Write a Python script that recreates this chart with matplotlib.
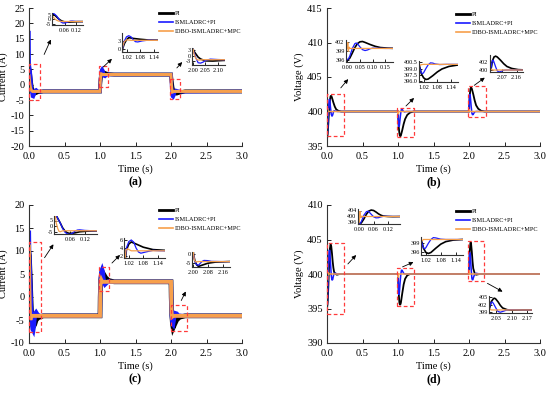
import matplotlib
matplotlib.use("Agg")
import matplotlib.pyplot as plt

plt.rcParams["font.family"] = ["Liberation Serif", "DejaVu Serif"]
plt.rcParams["axes.unicode_minus"] = False

LABELS = ["PI", "ISMLADRC+PI", "IDBO-ISMLADRC+MPC"]
COLORS = ["#000000", "#1a1aff", "#f7a04c"]

# (time s, value) samples
A_PI = [(0.0, 5.5), (0.01, 4.5), (0.02, 2.5), (0.03, 0.5), (0.04, -1.0), (0.05, -2.0), (0.06, -2.6),
        (0.08, -2.9), (0.10, -2.7), (0.13, -2.4), (0.2, -2.2), (1.0, -2.2), (1.002, 0.0), (1.01, 2.0),
        (1.02, 3.5), (1.03, 4.3), (1.05, 4.0), (1.08, 3.7), (1.12, 3.4), (1.2, 3.3), (2.0, 3.3),
        (2.002, 2.5), (2.01, 1.0), (2.02, -0.8), (2.03, -1.8), (2.05, -2.8), (2.08, -2.9), (2.12, -2.6),
        (2.2, -2.2), (3.0, -2.2)]
A_ISM = [(0.0, 17.0), (0.003, 6.5), (0.01, 5.5), (0.02, 3.5), (0.03, 0.5), (0.04, -2.5), (0.05, -3.8),
         (0.06, -3.9), (0.07, -3.3), (0.08, -2.5), (0.09, -1.8), (0.10, -1.7), (0.12, -2.1), (0.15, -2.3),
         (0.2, -2.2), (1.0, -2.2), (1.002, 0.0), (1.01, 3.0), (1.02, 4.6), (1.03, 5.0), (1.04, 4.6),
         (1.05, 3.5), (1.06, 2.8), (1.07, 2.7), (1.09, 3.1), (1.12, 3.4), (1.15, 3.3), (2.0, 3.3),
         (2.002, 2.0), (2.01, -1.0), (2.02, -3.8), (2.03, -4.0), (2.04, -3.5), (2.05, -2.6), (2.07, -1.9),
         (2.10, -2.1), (2.15, -2.3), (3.0, -2.2)]
A_IDBO = [(0.0, 3.0), (0.01, 0.5), (0.02, -1.0), (0.03, -1.8), (0.05, -2.2), (1.0, -2.2), (1.003, 1.0),
          (1.01, 2.8), (1.02, 3.5), (1.04, 3.3), (2.0, 3.3), (2.003, 1.0), (2.01, -1.5), (2.02, -2.4),
          (2.04, -2.2), (3.0, -2.2)]

B_PI = [(0.0, 396.0), (0.01, 396.8), (0.02, 398.5), (0.03, 400.3), (0.04, 401.6), (0.05, 402.2),
        (0.06, 402.3), (0.07, 402.0), (0.09, 401.3), (0.11, 400.7), (0.13, 400.3), (0.16, 400.1),
        (0.2, 400.0), (1.0, 400.0), (1.005, 399.0), (1.01, 397.8), (1.02, 396.8), (1.03, 396.4),
        (1.04, 396.5), (1.06, 397.3), (1.08, 398.2), (1.10, 398.9), (1.13, 399.5), (1.17, 399.85),
        (1.22, 400.0), (2.0, 400.0), (2.005, 401.0), (2.01, 402.3), (2.02, 403.3), (2.03, 403.5),
        (2.04, 403.3), (2.06, 402.5), (2.08, 401.6), (2.10, 400.9), (2.13, 400.4), (2.17, 400.1),
        (2.22, 400.0), (3.0, 400.0)]
B_ISM = [(0.0, 396.3), (0.005, 396.6), (0.01, 397.5), (0.02, 400.0), (0.03, 401.6), (0.035, 401.8),
         (0.04, 401.6), (0.05, 400.5), (0.06, 399.6), (0.07, 399.3), (0.08, 399.5), (0.09, 399.9),
         (0.10, 400.1), (0.12, 400.05), (0.15, 400.0), (1.0, 400.0), (1.005, 398.8), (1.01, 398.0),
         (1.015, 397.8), (1.02, 398.0), (1.03, 399.0), (1.04, 399.9), (1.05, 400.35), (1.06, 400.3),
         (1.07, 400.1), (1.09, 399.95), (1.12, 400.0), (2.0, 400.0), (2.005, 401.5), (2.01, 402.4),
         (2.015, 402.5), (2.02, 402.0), (2.03, 400.8), (2.04, 399.8), (2.05, 399.5), (2.06, 399.6),
         (2.08, 399.95), (2.10, 400.0), (3.0, 400.0)]
B_IDBO = [(0.0, 400.0), (0.002, 402.0), (0.004, 399.0), (0.007, 400.5), (0.01, 400.0), (1.0, 400.0),
          (1.003, 399.6), (1.008, 399.9), (1.02, 400.0), (2.0, 400.0), (2.003, 400.3), (2.01, 400.0),
          (3.0, 400.0)]

C_PI = [(0.0, 9.5), (0.005, 9.0), (0.01, 7.0), (0.02, 3.0), (0.03, -1.5), (0.04, -4.5), (0.05, -6.0),
        (0.06, -6.5), (0.08, -6.0), (0.10, -5.0), (0.13, -4.5), (0.2, -4.1), (1.0, -4.1), (1.003, 0.0),
        (1.01, 3.5), (1.02, 5.0), (1.03, 5.5), (1.05, 5.0), (1.08, 4.2), (1.12, 3.6), (1.2, 3.3),
        (2.0, 3.3), (2.003, 0.0), (2.01, -3.5), (2.02, -5.8), (2.03, -6.7), (2.05, -6.0), (2.08, -5.0),
        (2.12, -4.4), (2.2, -4.1), (3.0, -4.1)]
C_ISM = [(0.0, 14.0), (0.003, 10.0), (0.01, 7.0), (0.02, 3.0), (0.03, -2.0), (0.04, -5.5), (0.05, -7.0),
         (0.06, -7.3), (0.07, -6.3), (0.08, -4.5), (0.09, -3.5), (0.10, -3.3), (0.12, -3.8), (0.15, -4.1),
         (1.0, -4.1), (1.003, 0.0), (1.01, 4.0), (1.02, 5.6), (1.03, 6.0), (1.04, 5.5), (1.05, 4.0),
         (1.06, 3.0), (1.07, 2.7), (1.09, 3.0), (1.12, 3.4), (1.15, 3.3), (2.0, 3.3), (2.003, 0.0),
         (2.01, -4.0), (2.02, -5.8), (2.03, -6.0), (2.04, -5.0), (2.05, -4.0), (2.06, -3.5), (2.08, -3.6),
         (2.10, -4.0), (2.15, -4.1), (3.0, -4.1)]
C_IDBO = [(0.0, 11.0), (0.004, 3.0), (0.01, -2.0), (0.015, -4.5), (0.02, -5.0), (0.03, -4.2), (0.05, -4.1),
          (1.0, -4.1), (1.003, 0.0), (1.008, 3.5), (1.015, 3.8), (1.03, 3.3), (2.0, 3.3), (2.003, 0.0),
          (2.008, -3.5), (2.015, -4.3), (2.03, -4.1), (3.0, -4.1)]

D_PI = [(0.0, 395.0), (0.01, 396.0), (0.02, 398.5), (0.03, 401.5), (0.04, 403.6), (0.05, 404.3),
        (0.06, 404.0), (0.07, 403.0), (0.08, 401.8), (0.09, 400.9), (0.10, 400.3), (0.12, 400.0),
        (0.14, 399.9), (0.18, 400.0), (1.0, 400.0), (1.005, 398.8), (1.01, 397.2), (1.02, 395.8),
        (1.03, 395.5), (1.04, 395.8), (1.06, 397.2), (1.08, 398.5), (1.10, 399.3), (1.13, 399.8),
        (1.17, 400.0), (2.0, 400.0), (2.005, 401.5), (2.01, 403.3), (2.02, 404.5), (2.025, 404.6),
        (2.03, 404.3), (2.04, 403.2), (2.05, 401.8), (2.06, 400.8), (2.08, 400.1), (2.10, 399.9),
        (2.15, 400.0), (3.0, 400.0)]
D_ISM = [(0.0, 395.0), (0.005, 395.5), (0.01, 397.0), (0.02, 401.0), (0.03, 403.2), (0.035, 403.5),
         (0.04, 403.2), (0.05, 401.5), (0.06, 399.8), (0.07, 399.1), (0.08, 399.2), (0.09, 399.7),
         (0.10, 400.1), (0.12, 400.1), (0.15, 400.0), (1.0, 400.0), (1.005, 398.5), (1.01, 397.3),
         (1.015, 397.0), (1.02, 397.4), (1.03, 398.8), (1.04, 400.0), (1.05, 400.6), (1.06, 400.5),
         (1.08, 400.1), (1.10, 400.0), (2.0, 400.0), (2.005, 402.0), (2.01, 403.0), (2.015, 403.1),
         (2.02, 402.5), (2.03, 400.8), (2.04, 399.4), (2.05, 399.1), (2.06, 399.4), (2.08, 400.0),
         (2.10, 400.1), (2.15, 400.0), (3.0, 400.0)]
D_IDBO = [(0.0, 396.0), (0.003, 403.5), (0.006, 399.0), (0.01, 400.3), (0.015, 400.0), (1.0, 400.0),
          (1.003, 399.5), (1.01, 400.0), (2.0, 400.0), (2.003, 400.5), (2.01, 400.0), (3.0, 400.0)]

W, H = 550, 394


def px_rect(x0, y0, x1, y1):
    return [x0 / W, 1 - y1 / H, (x1 - x0) / W, (y1 - y0) / H]


def px(x, y):
    return (x / W, 1 - y / H)


def style_axes(ax, size, length, xpad, ypad):
    for s in ("top", "right"):
        ax.spines[s].set_visible(False)
    for s in ("left", "bottom"):
        ax.spines[s].set_color("#333333")
        ax.spines[s].set_linewidth(0.8)
    ax.tick_params(direction="in", labelsize=size, length=length, width=0.6)
    ax.tick_params(axis="x", pad=xpad)
    ax.tick_params(axis="y", pad=ypad)


def plot_series(ax, series, widths):
    for data, c, w, lab in zip(series, COLORS, widths, LABELS):
        t, y = zip(*data)
        ax.plot(t, y, color=c, lw=w, label=lab, solid_joinstyle="miter")


def main_panel(fig, rect, series, ylim, yticks, ylabel, letter, widths, legend_xy):
    ax = fig.add_axes(px_rect(*rect))
    plot_series(ax, series, widths)
    ax.set_xlim(0, 3)
    ax.set_ylim(*ylim)
    ax.set_yticks(yticks)
    ax.set_xticks([0, 0.5, 1.0, 1.5, 2.0, 2.5, 3.0])
    ax.set_xticklabels(["%.1f" % v for v in ax.get_xticks()])
    style_axes(ax, 7.5, 3, 4, 3)
    ax.set_xlabel("Time (s)", fontsize=7.5, labelpad=3)
    ax.set_ylabel(ylabel, fontsize=7.5, labelpad=2)
    fig.text((rect[0] + rect[2]) / 2 / W, 1 - (rect[3] + 36) / H, letter,
             ha="center", va="center", fontsize=8.5, fontweight="bold")
    handles = [plt.Line2D([], [], color=c, lw=w) for c, w in zip(COLORS, [2.0, 1.2, 1.2])]
    fig.legend(handles, LABELS, loc="upper left", bbox_to_anchor=px(*legend_xy),
               frameon=False, fontsize=4.5, handlelength=2.3, handletextpad=0.15,
               labelspacing=0.55, borderpad=0, borderaxespad=0)
    return ax


def inset(fig, rect, series, xlim, ylim, xticks, yticks, xfmt="%.2f", yfmt="%g"):
    ax = fig.add_axes(px_rect(*rect))
    plot_series(ax, series, [1.2, 0.9, 0.9])
    ax.set_xlim(*xlim)
    ax.set_ylim(*ylim)
    ax.set_xticks(xticks)
    ax.set_xticklabels([xfmt % v for v in xticks])
    ax.set_yticks(yticks)
    ax.set_yticklabels([yfmt % v for v in yticks])
    style_axes(ax, 4.4, 2, 2, 1)
    ax.patch.set_alpha(0)
    return ax


def box(ax, x0, x1, y0, y1):
    ax.plot([x0, x1, x1, x0, x0], [y0, y0, y1, y1, y0], color="#ff3b3b", lw=0.9,
            dashes=(3, 2), clip_on=False, zorder=5)


def arrow(fig, p0, p1):
    fig.patches.append(matplotlib.patches.FancyArrowPatch(
        px(*p0), px(*p1), transform=fig.transFigure, arrowstyle="-|>",
        mutation_scale=6, lw=0.6, color="black"))


fig = plt.figure(figsize=(W / 100, H / 100), dpi=100)

# (a)
ax = main_panel(fig, (29, 8, 242, 146), [A_PI, A_ISM, A_IDBO], (-20, 25), range(-20, 26, 5),
                "Current (A)", "(a)", [2.8, 2.5, 2.2], (159, 11))
box(ax, 0.0, 0.155, -5.0, 6.8)
box(ax, 0.985, 1.11, -0.7, 6.1)
box(ax, 1.99, 2.13, 2.0, -4.6)
inset(fig, (52, 13, 83, 25), [A_PI, A_ISM, A_IDBO], (-0.005, 0.155), (-6, 7), [0.06, 0.12], [5, 0, -5])
inset(fig, (122, 33, 158, 52), [A_PI, A_ISM, A_IDBO], (1.0, 1.16), (-1, 6), [1.02, 1.08, 1.14], [0, 3])
inset(fig, (192, 48, 225, 65), [A_PI, A_ISM, A_IDBO], (1.995, 2.13), (-5, 4), [2.00, 2.05, 2.10], [3, 0, -3])
arrow(fig, (43, 57), (52, 37))
arrow(fig, (101, 69), (114, 57))
arrow(fig, (175, 70), (184, 60))

# (b)
ax = main_panel(fig, (327, 8, 540, 146), [B_PI, B_ISM, B_IDBO], (395, 415), range(395, 416, 5),
                "Voltage (V)", "(b)", [1.3, 1.1, 1.1], (456, 12))
box(ax, 0.0, 0.24, 396.4, 402.6)
box(ax, 0.98, 1.22, 396.3, 400.55)
box(ax, 1.99, 2.24, 399.2, 403.7)
inset(fig, (346, 40, 393, 62), [B_PI, B_ISM, B_IDBO], (-0.005, 0.18), (395.5, 402.8),
      [0.0, 0.05, 0.10, 0.15], [396, 399, 402])
inset(fig, (419, 61, 458, 82), [B_PI, B_ISM, B_IDBO], (1.0, 1.17), (395.8, 400.8),
      [1.02, 1.08, 1.14], [396.0, 397.5, 399.0, 400.5], yfmt="%.1f")
inset(fig, (490, 55, 523, 72), [B_PI, B_ISM, B_IDBO], (1.995, 2.2), (399.5, 403.8),
      [2.07, 2.16], [400, 402])
arrow(fig, (339, 90), (350, 77))
arrow(fig, (404, 108), (416, 96))
arrow(fig, (472, 87), (487, 76))

# (c)
ax = main_panel(fig, (29, 205, 242, 343), [C_PI, C_ISM, C_IDBO], (-10, 20), range(-10, 21, 5),
                "Current (A)", "(c)", [3.4, 3.0, 2.8], (159, 208))
box(ax, 0.0, 0.17, -7.6, 12.0)
box(ax, 0.99, 1.13, 1.3, 6.5)
box(ax, 2.0, 2.23, -7.3, -1.8)
inset(fig, (54, 216, 97, 234), [C_PI, C_ISM, C_IDBO], (-0.005, 0.17), (-7, 9), [0.06, 0.12], [5, 0, -5])
inset(fig, (124, 238, 165, 258), [C_PI, C_ISM, C_IDBO], (1.0, 1.17), (1.5, 6.5), [1.02, 1.08, 1.14], [2, 4, 6])
inset(fig, (192, 252, 230, 267), [C_PI, C_ISM, C_IDBO], (1.995, 2.2), (-7, 1), [2.00, 2.08, 2.16], [0, -5])
arrow(fig, (43, 260), (55, 242))
arrow(fig, (110, 265), (122, 253))
arrow(fig, (180, 303), (187, 289))

# (d)
ax = main_panel(fig, (327, 205, 540, 343), [D_PI, D_ISM, D_IDBO], (390, 410), range(390, 411, 5),
                "Voltage (V)", "(d)", [1.3, 1.1, 1.1], (456, 209))
box(ax, 0.0, 0.24, 394.2, 404.5)
box(ax, 0.98, 1.22, 395.3, 400.8)
box(ax, 1.99, 2.21, 399.0, 404.8)
inset(fig, (358, 209, 400, 224), [D_PI, D_ISM, D_IDBO], (-0.005, 0.17), (395, 405),
      [0.0, 0.06, 0.12], [396, 400, 404])
inset(fig, (421, 237, 463, 255), [D_PI, D_ISM, D_IDBO], (1.0, 1.17), (395, 400.8),
      [1.02, 1.08, 1.14], [396, 399])
inset(fig, (489, 296, 532, 313), [D_PI, D_ISM, D_IDBO], (2.0, 2.19), (398.8, 405.5),
      [2.03, 2.10, 2.17], [399, 402, 405])
arrow(fig, (346, 266), (358, 253))
arrow(fig, (400, 268), (416, 261))
arrow(fig, (485, 282), (505, 293))

fig.savefig("out.png", dpi=100)
